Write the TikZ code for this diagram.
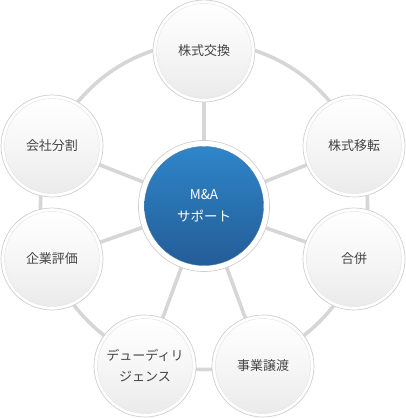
\documentclass[tikz,border=0pt]{standalone}
\usepackage{fontspec}
\setmainfont{Noto Sans CJK JP}
\definecolor{ringgray}{HTML}{D6D6D6}
\definecolor{edgegray}{HTML}{CFCFCF}
\definecolor{txtgray}{HTML}{454545}
\definecolor{bluetop}{HTML}{2E86C9}
\definecolor{bluebot}{HTML}{245C97}
\tikzset{
  conn/.style={draw=ringgray, line width=3.6pt},
  satouter/.style={circle, minimum size=102pt, inner sep=0pt, fill=white, draw=edgegray, line width=0.7pt},
  satinner/.style={circle, minimum size=95pt, inner sep=0pt, top color=white, bottom color=gray!16, middle color=gray!7, draw=gray!22, line width=0.4pt,
     text=txtgray, font=\fontsize{13}{21}\selectfont, align=center},
  hubouter/.style={circle, minimum size=131pt, inner sep=0pt, fill=white, draw=edgegray, line width=0.7pt},
  hubinner/.style={circle, minimum size=119pt, inner sep=0pt, top color=bluetop, bottom color=bluebot, draw=bluebot!80, line width=0.4pt,
     text=white, font=\fontsize{13.5}{22}\selectfont, align=center},
}
\begin{document}
\begin{tikzpicture}[x=1pt,y=-1pt]
\useasboundingbox (0,0) rectangle (406,418);
\coordinate (hub) at (204,206);
\coordinate (p1) at (204,51);
\coordinate (p2) at (354,146);
\coordinate (p3) at (354,259);
\coordinate (p4) at (263,366);
\coordinate (p5) at (145,366);
\coordinate (p6) at (52,259);
\coordinate (p7) at (52,146);
% ring
\draw[conn] (hub) circle (163.5);
% spokes
\foreach \p in {p1,p2,p3,p4,p5,p6,p7} \draw[conn] (hub) -- (\p);
% hub
\node[hubouter] (hubo) at (hub) {};
\node[hubinner] (hubi) at (hub) {M\&A\\サポート};
% satellites
\node[satouter] (o1) at (p1) {}; \node[satinner] (n1) at (p1) {株式交換};
\node[satouter] (o2) at (p2) {}; \node[satinner] (n2) at (p2) {株式移転};
\node[satouter] (o3) at (p3) {}; \node[satinner] (n3) at (p3) {合併};
\node[satouter] (o4) at (p4) {}; \node[satinner] (n4) at (p4) {事業譲渡};
\node[satouter] (o5) at (p5) {}; \node[satinner] (n5) at (p5) {デューディリ\\ジェンス};
\node[satouter] (o6) at (p6) {}; \node[satinner] (n6) at (p6) {企業評価};
\node[satouter] (o7) at (p7) {}; \node[satinner] (n7) at (p7) {会社分割};
\end{tikzpicture}
\end{document}
